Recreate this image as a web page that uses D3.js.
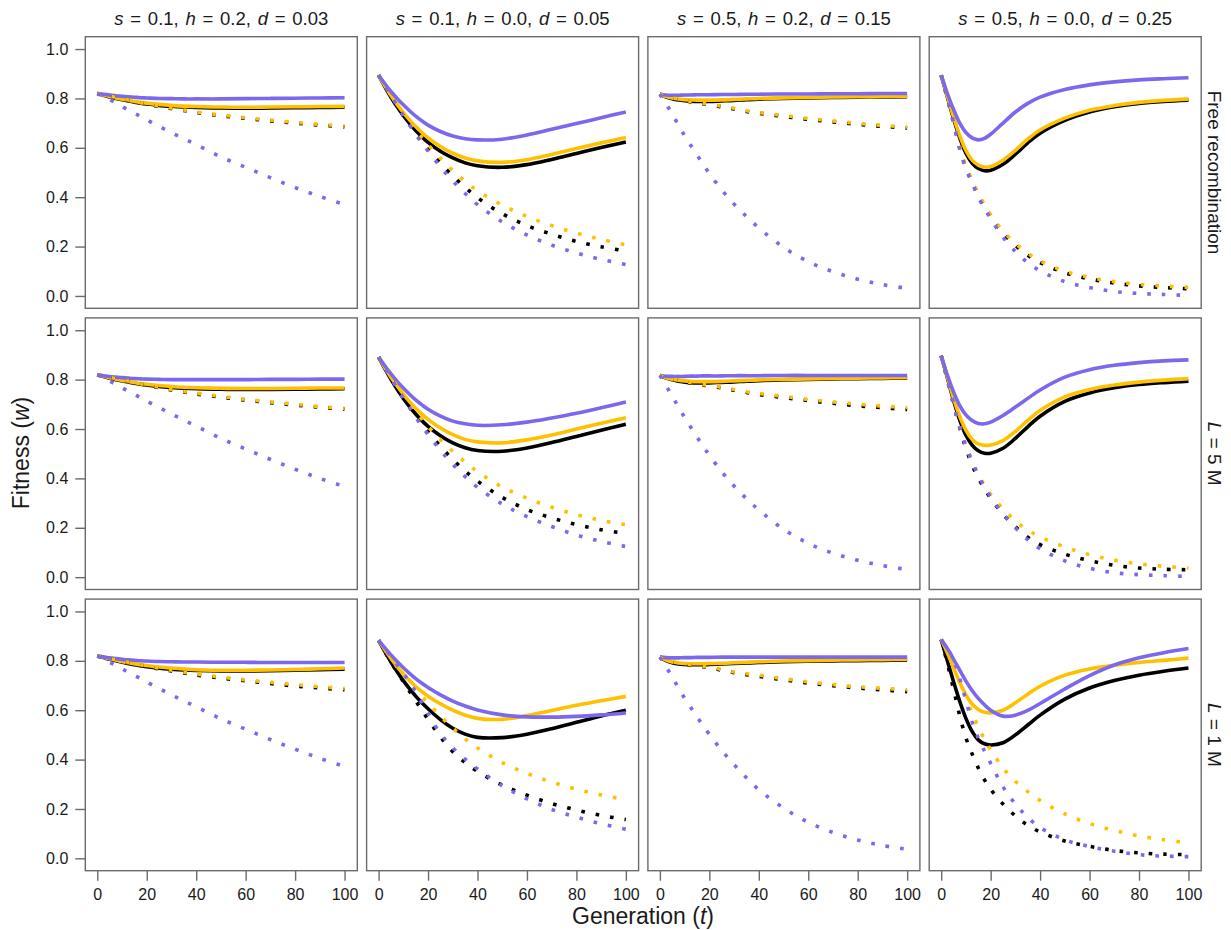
<!DOCTYPE html>
<html>
<head>
<meta charset="utf-8">
<script src="https://cdn.jsdelivr.net/npm/d3@7"></script>
<style>
  body { margin: 0; background: #ffffff; }
  text { font-family: "Liberation Sans", Arial, Helvetica, sans-serif; fill: #1a1a1a; }
</style>
</head>
<body>
<svg id="chart" width="1231" height="930"></svg>
<script>
// Generations at which mean fitness was recorded
const generations = [0, 2.5, 5, 7.5, 10, 12.5, 15, 17.5, 20, 25, 30, 35, 40, 50, 60, 70, 80, 90, 100];

// Column parameters (selection s, dominance h, deleterious effect d)
const sValues = ["0.1", "0.1", "0.5", "0.5"];
const hValues = ["0.2", "0.0", "0.2", "0.0"];
const dValues = ["0.03", "0.05", "0.15", "0.25"];

// Row strips: recombination regime (map length L)
const rowMapLength = [null, "5 M", "1 M"];

const yTicks = [0, 0.2, 0.4, 0.6, 0.8, 1.0];
const xTicks = [0, 20, 40, 60, 80, 100];

// Each array holds 12 panels in row-major order (free rec., L = 5 M, L = 1 M)
const blackSolid = [
  [.820,.813,.806,.800,.795,.790,.785,.781,.778,.772,.768,.765,.763,.761,.760,.761,.762,.763,.764],
  [.894,.848,.805,.766,.731,.699,.670,.645,.622,.586,.559,.539,.527,.521,.532,.553,.577,.601,.624],
  [.817,.806,.799,.794,.791,.789,.788,.788,.788,.790,.792,.795,.797,.800,.802,.804,.805,.806,.807],
  [.894,.806,.718,.640,.578,.538,.516,.507,.509,.533,.574,.620,.659,.711,.745,.766,.780,.788,.793],
  [.820,.813,.806,.800,.795,.790,.785,.781,.778,.772,.768,.765,.763,.761,.760,.760,.761,.762,.763],
  [.891,.845,.801,.761,.724,.691,.661,.634,.611,.573,.544,.524,.513,.510,.523,.545,.570,.595,.619],
  [.817,.806,.799,.794,.790,.788,.787,.787,.787,.789,.791,.794,.796,.799,.801,.803,.804,.805,.806],
  [.897,.808,.716,.636,.575,.535,.512,.502,.502,.522,.562,.609,.652,.712,.746,.767,.780,.788,.794],
  [.820,.813,.806,.800,.794,.789,.784,.780,.776,.770,.766,.763,.761,.759,.759,.760,.762,.764,.766],
  [.883,.838,.795,.756,.720,.687,.657,.630,.606,.562,.527,.503,.490,.489,.503,.525,.551,.577,.600],
  [.815,.801,.792,.787,.785,.784,.784,.784,.785,.787,.789,.791,.793,.796,.798,.800,.801,.802,.803],
  [.886,.800,.715,.636,.567,.514,.480,.464,.459,.468,.500,.540,.580,.645,.690,.720,.742,.758,.771]
];

const yellowSolid = [
  [.820,.814,.808,.802,.797,.792,.788,.784,.781,.776,.772,.769,.767,.765,.764,.765,.766,.767,.768],
  [.894,.852,.812,.776,.743,.713,.686,.662,.640,.605,.578,.559,.547,.541,.552,.573,.597,.620,.642],
  [.817,.808,.802,.798,.795,.794,.793,.793,.793,.794,.796,.798,.800,.802,.804,.806,.807,.808,.809],
  [.894,.810,.725,.649,.589,.550,.530,.522,.524,.550,.590,.635,.672,.720,.752,.771,.784,.792,.797],
  [.820,.814,.808,.802,.797,.792,.788,.784,.781,.776,.772,.769,.767,.765,.764,.764,.765,.766,.766],
  [.891,.849,.810,.774,.741,.711,.684,.660,.639,.604,.577,.558,.548,.544,.556,.576,.600,.623,.646],
  [.817,.808,.802,.798,.795,.793,.792,.792,.792,.793,.795,.797,.799,.801,.803,.805,.806,.807,.808],
  [.897,.812,.725,.651,.595,.559,.540,.534,.535,.553,.590,.635,.675,.730,.760,.778,.790,.798,.804],
  [.820,.814,.808,.802,.797,.792,.788,.784,.781,.775,.771,.767,.764,.762,.762,.763,.765,.768,.771],
  [.883,.845,.810,.777,.747,.720,.696,.675,.657,.626,.600,.580,.567,.563,.578,.599,.620,.638,.656],
  [.815,.803,.795,.791,.789,.788,.788,.788,.789,.790,.792,.794,.796,.799,.801,.803,.804,.805,.806],
  [.886,.832,.772,.713,.662,.625,.603,.592,.589,.600,.630,.665,.697,.742,.767,.782,.793,.802,.811]
];

const purpleSolid = [
  [.820,.817,.814,.811,.809,.807,.805,.803,.802,.800,.799,.798,.798,.798,.799,.800,.801,.802,.803],
  [.894,.860,.828,.800,.774,.750,.728,.709,.692,.666,.648,.637,.632,.635,.652,.675,.698,.722,.745],
  [.817,.814,.813,.813,.814,.814,.815,.815,.815,.816,.816,.817,.817,.818,.818,.819,.819,.820,.820],
  [.894,.820,.755,.700,.662,.640,.632,.638,.655,.700,.745,.780,.805,.836,.855,.867,.875,.880,.884],
  [.820,.816,.813,.810,.808,.806,.804,.803,.802,.801,.800,.800,.800,.800,.800,.801,.801,.802,.802],
  [.891,.856,.823,.793,.766,.741,.718,.698,.680,.652,.632,.621,.615,.617,.628,.645,.664,.686,.709],
  [.817,.814,.813,.813,.813,.814,.814,.815,.815,.815,.816,.816,.816,.817,.817,.817,.817,.817,.817],
  [.897,.818,.750,.695,.657,.634,.622,.621,.628,.655,.689,.724,.758,.810,.840,.858,.869,.876,.880],
  [.820,.816,.812,.809,.806,.804,.802,.800,.799,.797,.796,.795,.795,.794,.794,.793,.793,.793,.793],
  [.883,.853,.824,.797,.772,.749,.728,.709,.692,.662,.637,.617,.601,.581,.573,.572,.575,.581,.589],
  [.815,.813,.812,.812,.813,.813,.814,.814,.814,.815,.815,.815,.815,.815,.815,.815,.815,.815,.815],
  [.886,.850,.806,.762,.718,.680,.648,.622,.600,.576,.580,.599,.627,.686,.740,.783,.812,.833,.850]
];

const blackDotted = [
  [.820,.814,.808,.803,.798,.793,.788,.782,.777,.767,.759,.751,.743,.730,.719,.709,.700,.692,.685],
  [.894,.850,.808,.768,.731,.695,.660,.627,.596,.538,.486,.440,.398,.333,.285,.250,.221,.199,.182],
  [.817,.807,.800,.795,.790,.786,.782,.778,.774,.766,.757,.747,.740,.727,.715,.705,.695,.687,.680],
  [.894,.800,.702,.598,.520,.463,.407,.362,.322,.255,.205,.165,.135,.094,.069,.052,.041,.034,.029],
  [.820,.814,.808,.803,.798,.793,.788,.782,.777,.767,.758,.750,.742,.729,.717,.707,.697,.688,.681],
  [.891,.848,.806,.766,.727,.690,.655,.621,.589,.530,.477,.430,.389,.323,.274,.240,.213,.192,.177],
  [.817,.807,.800,.795,.790,.786,.782,.778,.774,.766,.757,.748,.740,.727,.715,.704,.694,.686,.679],
  [.897,.800,.700,.605,.522,.455,.402,.358,.320,.255,.204,.162,.132,.093,.067,.048,.037,.032,.030],
  [.820,.814,.808,.803,.798,.793,.788,.782,.777,.767,.759,.751,.743,.730,.719,.708,.698,.690,.683],
  [.883,.838,.795,.755,.716,.677,.638,.600,.563,.492,.432,.388,.352,.297,.256,.222,.196,.174,.157],
  [.815,.802,.794,.789,.785,.782,.779,.776,.773,.762,.752,.744,.737,.723,.710,.699,.690,.682,.675],
  [.886,.790,.685,.578,.488,.423,.366,.318,.280,.220,.172,.134,.107,.070,.049,.032,.022,.017,.015]
];

const yellowDotted = [
  [.820,.815,.809,.804,.799,.794,.789,.783,.778,.769,.761,.753,.745,.733,.722,.712,.703,.695,.688],
  [.894,.852,.812,.775,.740,.706,.673,.642,.613,.558,.508,.464,.426,.368,.322,.285,.255,.229,.207],
  [.817,.808,.802,.797,.792,.788,.784,.780,.777,.769,.760,.750,.743,.731,.719,.709,.699,.691,.684],
  [.894,.802,.706,.603,.527,.470,.415,.370,.330,.263,.213,.173,.142,.100,.075,.058,.047,.040,.035],
  [.820,.815,.809,.804,.799,.794,.789,.783,.778,.769,.760,.752,.745,.732,.720,.710,.700,.691,.684],
  [.891,.849,.810,.773,.737,.703,.671,.640,.611,.557,.509,.466,.427,.365,.320,.283,.253,.230,.212],
  [.817,.808,.802,.797,.792,.788,.784,.780,.777,.769,.760,.751,.744,.732,.720,.710,.701,.693,.687],
  [.897,.802,.703,.610,.532,.467,.415,.372,.335,.277,.228,.190,.163,.122,.091,.069,.054,.044,.037],
  [.820,.815,.809,.804,.799,.794,.789,.784,.779,.770,.762,.754,.747,.734,.723,.713,.704,.695,.688],
  [.883,.845,.809,.775,.743,.713,.684,.656,.630,.576,.528,.484,.447,.388,.344,.309,.280,.257,.238],
  [.815,.803,.796,.791,.787,.784,.781,.778,.775,.765,.755,.748,.742,.728,.715,.704,.695,.689,.683],
  [.886,.832,.772,.712,.650,.590,.532,.482,.440,.366,.312,.270,.234,.180,.141,.113,.091,.075,.063]
];

const purpleDotted = [
  [.820,.807,.795,.781,.767,.753,.740,.727,.713,.687,.661,.637,.613,.563,.521,.479,.439,.403,.370],
  [.894,.853,.812,.771,.731,.692,.655,.620,.587,.523,.466,.415,.370,.300,.247,.206,.174,.148,.127],
  [.817,.778,.737,.692,.649,.609,.571,.533,.496,.430,.372,.322,.276,.197,.139,.098,.068,.046,.031],
  [.894,.800,.700,.595,.515,.458,.400,.355,.313,.238,.180,.135,.102,.058,.034,.018,.010,.006,.002],
  [.820,.807,.794,.781,.767,.753,.740,.727,.713,.687,.661,.636,.612,.562,.519,.477,.437,.400,.367],
  [.891,.848,.806,.765,.725,.686,.648,.612,.578,.514,.457,.407,.364,.296,.245,.205,.171,.145,.124],
  [.817,.775,.733,.689,.647,.607,.568,.530,.494,.427,.369,.318,.273,.194,.137,.097,.068,.047,.031],
  [.897,.800,.700,.608,.530,.470,.412,.365,.325,.255,.200,.152,.115,.066,.036,.018,.010,.006,.003],
  [.820,.807,.794,.781,.768,.754,.741,.728,.714,.688,.662,.638,.614,.565,.523,.481,.442,.405,.372],
  [.883,.851,.818,.784,.750,.713,.674,.632,.588,.505,.448,.402,.362,.294,.241,.198,.167,.140,.118],
  [.815,.775,.735,.690,.649,.611,.573,.537,.502,.437,.380,.326,.278,.204,.146,.105,.074,.052,.037],
  [.886,.850,.805,.728,.640,.552,.487,.435,.385,.290,.220,.166,.125,.075,.048,.029,.015,.009,.007]
];

// ---- drawing ----
const COLORS = { black: "#000000", yellow: "#FFC000", purple: "#7B68EE" };
const layers = [
  { data: blackSolid,   color: COLORS.black,  dotted: false },
  { data: yellowSolid,  color: COLORS.yellow, dotted: false },
  { data: purpleSolid,  color: COLORS.purple, dotted: false },
  { data: blackDotted,  color: COLORS.black,  dotted: true },
  { data: yellowDotted, color: COLORS.yellow, dotted: true },
  { data: purpleDotted, color: COLORS.purple, dotted: true }
];

const svg = d3.select("#chart");
const panelW = 272, panelH = 271.6;
const colLeft = c => 85.3 + c * 281.3;
const rowTop = r => 36.7 + r * 281.2;
const frameColor = "#6b6b6b";

const x = d3.scaleLinear().domain([-4.85, 105.15]).range([0, panelW]);
const y = d3.scaleLinear().domain([-0.05, 1.05]).range([panelH, 0]);

const line = d3.line()
  .x((d, i) => x(generations[i]))
  .y(d => y(d))
  .curve(d3.curveCatmullRom.alpha(0.5));

for (let r = 0; r < 3; r++) {
  for (let c = 0; c < 4; c++) {
    const idx = r * 4 + c;
    const g = svg.append("g").attr("transform", `translate(${colLeft(c)},${rowTop(r)})`);

    layers.forEach(L => {
      g.append("path")
        .attr("d", line(L.data[idx]))
        .attr("fill", "none")
        .attr("stroke", L.color)
        .attr("stroke-width", 3.6)
        .attr("stroke-linecap", "butt")
        .attr("stroke-linejoin", "round")
        .attr("stroke-dasharray", L.dotted ? "3.6 11" : null);
    });

    g.append("rect")
      .attr("x", 0).attr("y", 0)
      .attr("width", panelW).attr("height", panelH)
      .attr("fill", "none")
      .attr("stroke", frameColor)
      .attr("stroke-width", 1.4);

    if (c === 0) {
      const ay = g.append("g").call(
        d3.axisLeft(y).tickValues(yTicks).tickFormat(d3.format(".1f"))
          .tickSize(10).tickSizeOuter(0).tickPadding(7)
      );
      ay.select(".domain").remove();
      ay.selectAll("line").attr("stroke", frameColor).attr("stroke-width", 1.4);
      ay.selectAll("text").style("font-size", "16px").attr("fill", "#1a1a1a")
        .style("font-family", "'Liberation Sans', Arial, sans-serif");
    }
    if (r === 2) {
      const ax = g.append("g").attr("transform", `translate(0,${panelH})`).call(
        d3.axisBottom(x).tickValues(xTicks).tickFormat(d3.format("d"))
          .tickSize(10).tickSizeOuter(0).tickPadding(8)
      );
      ax.select(".domain").remove();
      ax.selectAll("line").attr("stroke", frameColor).attr("stroke-width", 1.4);
      ax.selectAll("text").style("font-size", "16px").attr("fill", "#1a1a1a")
        .style("font-family", "'Liberation Sans', Arial, sans-serif");
    }
  }
}

// Column headers: s = .., h = .., d = ..
for (let c = 0; c < 4; c++) {
  const t = svg.append("text")
    .attr("x", colLeft(c) + panelW / 2)
    .attr("y", 25)
    .attr("text-anchor", "middle")
    .style("font-size", "18.5px")
    .style("word-spacing", "1.6px")
    .style("white-space", "pre");
  t.append("tspan").style("font-style", "italic").text("s");
  t.append("tspan").text(` = ${sValues[c]}, `);
  t.append("tspan").style("font-style", "italic").text("h");
  t.append("tspan").text(` = ${hValues[c]}, `);
  t.append("tspan").style("font-style", "italic").text("d");
  t.append("tspan").text(` = ${dValues[c]}`);
}

// Row strips on the right
for (let r = 0; r < 3; r++) {
  const t = svg.append("text")
    .attr("transform", `translate(1207.5,${rowTop(r) + panelH / 2}) rotate(90)`)
    .attr("text-anchor", "middle")
    .style("font-size", "19px")
    .style("white-space", "pre");
  if (rowMapLength[r] === null) {
    t.text("Free recombination");
  } else {
    t.append("tspan").style("font-style", "italic").text("L");
    t.append("tspan").text(` = ${rowMapLength[r]}`);
  }
}

// Axis titles
const yTitle = svg.append("text")
  .attr("transform", `translate(28.5,453) rotate(-90)`)
  .attr("text-anchor", "middle")
  .style("font-size", "23px")
  .style("white-space", "pre");
yTitle.append("tspan").text("Fitness (");
yTitle.append("tspan").style("font-style", "italic").text("w");
yTitle.append("tspan").text(")");

const xTitle = svg.append("text")
  .attr("x", 643).attr("y", 924)
  .attr("text-anchor", "middle")
  .style("font-size", "23px")
  .style("white-space", "pre");
xTitle.append("tspan").text("Generation (");
xTitle.append("tspan").style("font-style", "italic").text("t");
xTitle.append("tspan").text(")");
</script>
</body>
</html>
